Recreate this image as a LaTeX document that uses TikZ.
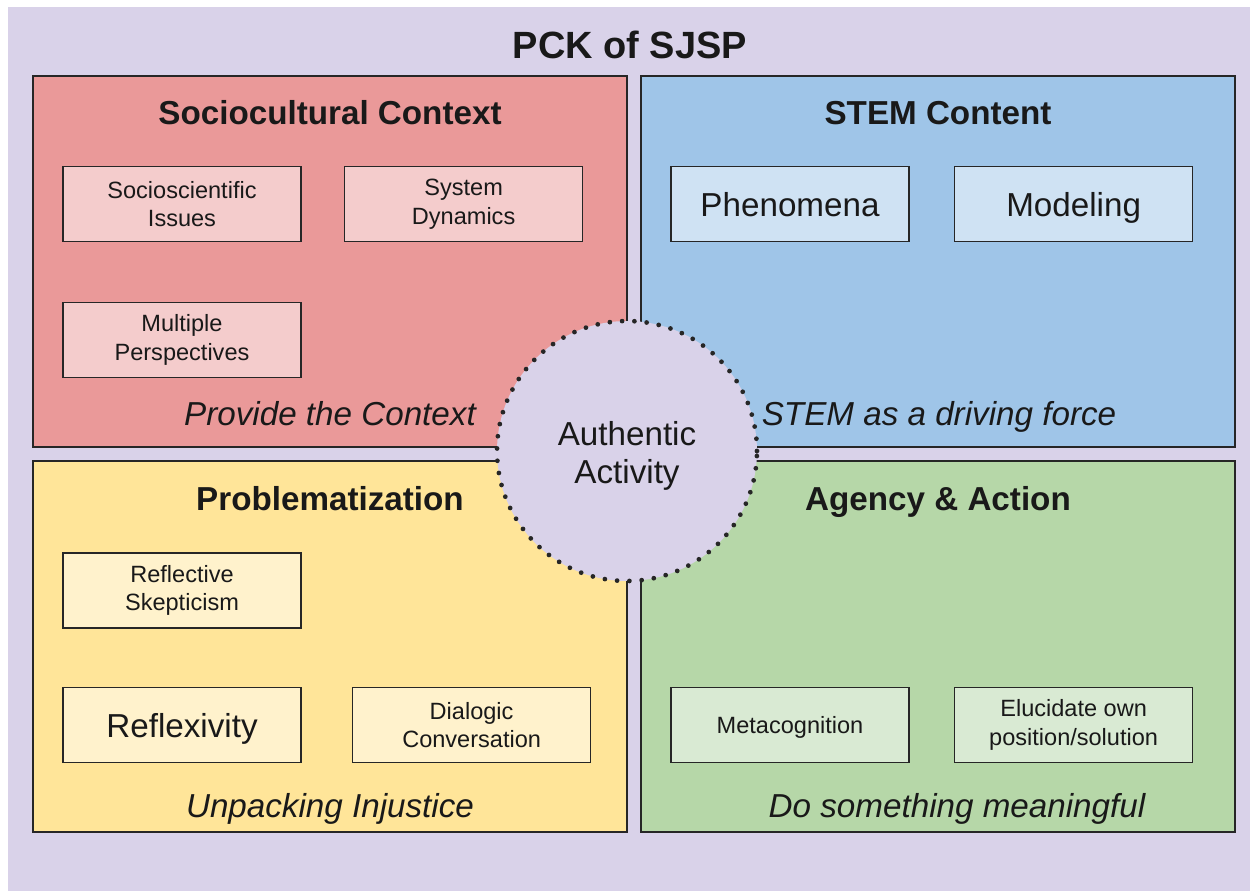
\documentclass[tikz,border=0pt]{standalone}
\usepackage{fontspec}
\setmainfont{Liberation Sans}
\usetikzlibrary{positioning}
\definecolor{lavender}{HTML}{D9D2E9}
\definecolor{rosebg}{HTML}{EA9999}
\definecolor{roselt}{HTML}{F4CCCC}
\definecolor{skybg}{HTML}{9FC5E8}
\definecolor{skylt}{HTML}{CFE2F3}
\definecolor{sandbg}{HTML}{FFE599}
\definecolor{sandlt}{HTML}{FFF2CC}
\definecolor{sagebg}{HTML}{B6D7A8}
\definecolor{sagelt}{HTML}{D9EAD3}

\begin{document}
\begin{tikzpicture}[x=0.02cm, y=-0.02cm, node distance=0.84cm,
  every node/.style={align=center, text=black!90},
  quad/.style={draw=black!85, line width=1pt, minimum width=11.88cm, minimum height=7.42cm, inner sep=0pt},
  item/.style={draw=black!85, line width=0.95pt, minimum width=4.76cm, minimum height=1.5cm, inner sep=2pt, font=\fontsize{13.4}{16.4}\selectfont},
  bigitem/.style={item, font=\fontsize{18.9}{22}\selectfont, text height=16.5pt, text depth=2.3pt},
  head/.style={anchor=base, font=\fontsize{18.9}{22}\selectfont\bfseries},
  motto/.style={anchor=base, font=\fontsize{18.9}{22}\selectfont\itshape}]
\useasboundingbox (0,0) rectangle (1250,891);
\fill[white] (0,0) rectangle (1250,891);
\fill[lavender] (8,7) rectangle (1250,891);

\node[anchor=base, font=\fontsize{21.6}{26}\selectfont\bfseries] (title) at (630,59) {PCK of SJSP};

% four quadrants
\node[quad, fill=rosebg] (socio) at (330,261.5) {};
\node[quad, fill=skybg] (stem) at (938,261.5) {};
\node[quad, fill=sandbg] (prob) at (330,646.5) {};
\node[quad, fill=sagebg] (agency) at (938,646.5) {};

% sociocultural context
\node[head] (sociohead) at (330,125) {Sociocultural Context};
\node[item, fill=roselt] (ssi) at (182,204) {Socioscientific\\Issues};
\node[item, fill=roselt, right=of ssi] (sysdyn) {System\\Dynamics};
\node[item, fill=roselt] (persp) at (182,340) {Multiple\\Perspectives};
\node[motto] (provide) at (330,425) {Provide the Context};

% STEM content
\node[head] (stemhead) at (938,125) {STEM Content};
\node[bigitem, fill=skylt] (phen) at (790,204) {Phenomena};
\node[bigitem, fill=skylt, right=0.88cm of phen] (model) {Modeling};
\node[motto] (driving) at (939,425) {STEM as a driving force};

% problematization
\node[head] (probhead) at (330,510) {Problematization};
\node[item, fill=sandlt] (skept) at (182,590.5) {Reflective\\Skepticism};
\node[bigitem, fill=sandlt] (reflex) at (182,725) {Reflexivity};
\node[item, fill=sandlt, right=1.0cm of reflex] (dialog) {Dialogic\\Conversation};
\node[motto] (unpack) at (330,817) {Unpacking Injustice};

% agency & action
\node[head] (agencyhead) at (938,510) {Agency \& Action};
\node[item, fill=sagelt, text depth=0pt] (metacog) at (790,725) {Metacognition};
\node[item, fill=sagelt, right=0.88cm of metacog] (elucid) {Elucidate own\\position/solution};
\node[motto] (meaning) at (957,817) {Do something meaningful};

% centre circle
\node[circle, draw=black!85, fill=lavender, minimum size=5.2cm, line width=2.7pt, line cap=round,
  dash pattern=on 0pt off 7pt] (auth) at (627,451) {};
\node[font=\fontsize{18.9}{22}\selectfont, yshift=-0.1cm] (authtext) at (auth.center) {Authentic\\Activity};
\end{tikzpicture}
\end{document}
